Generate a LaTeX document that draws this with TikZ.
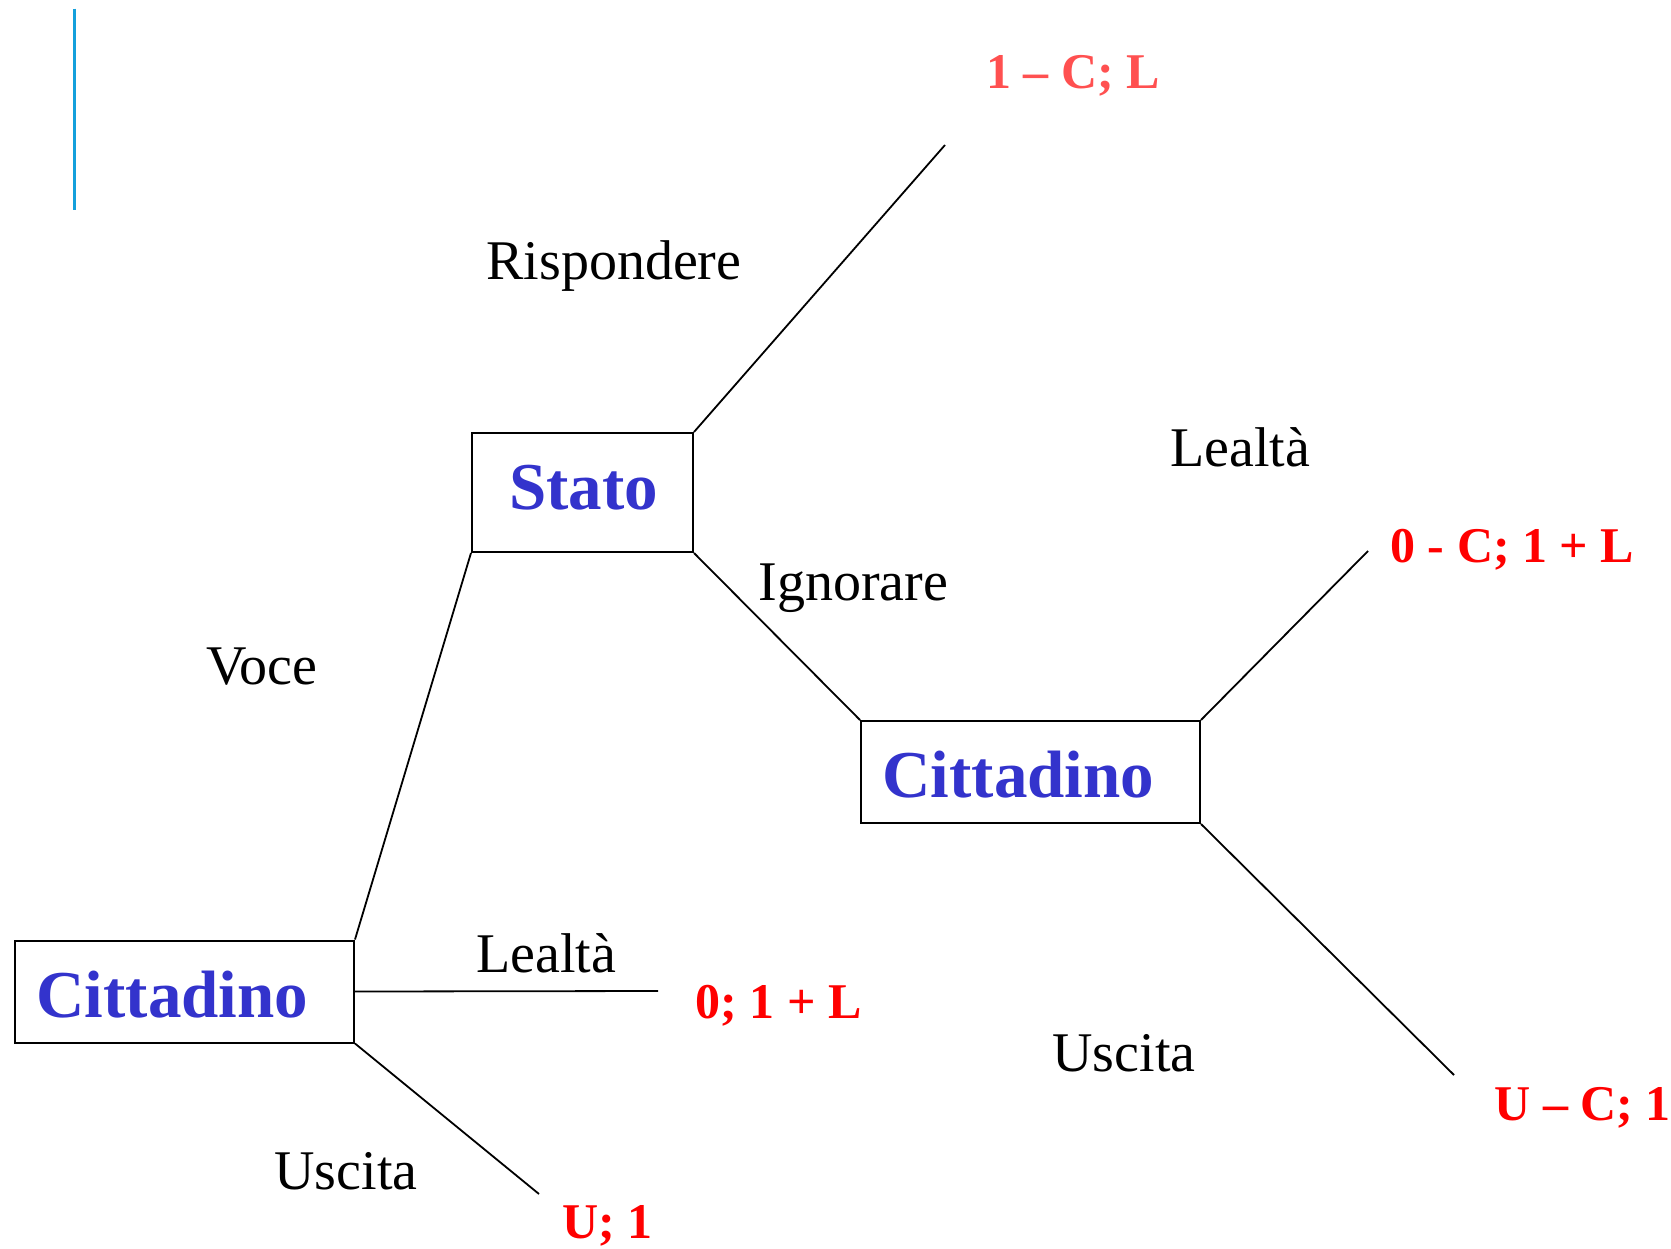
\documentclass[tikz,border=0pt]{standalone}
\usepackage{fontspec}
\setmainfont{Liberation Serif}
\definecolor{playerblue}{RGB}{51,51,204}
\definecolor{payred}{RGB}{255,0,0}
\definecolor{paylight}{RGB}{255,80,80}
\definecolor{barblue}{RGB}{20,160,220}
\begin{document}
\begin{tikzpicture}[x=0.5pt,y=-0.5pt,
  decision/.style={draw,line width=1pt,inner sep=0pt},
  player/.style={font=\fontsize{33.5}{36}\selectfont\bfseries,text=playerblue,anchor=base west,inner sep=0pt},
  move/.style={font=\fontsize{28}{32}\selectfont,anchor=base west,inner sep=0pt},
  payoff/.style={font=\fontsize{25}{28}\selectfont\bfseries,text=payred,anchor=base west,inner sep=0pt},
  branch/.style={line width=0.9pt}]
\useasboundingbox (0,0) rectangle (1671,1248);

% accent bar
\coordinate (bartop) at (74.6,8.5);
\coordinate (barbot) at (74.6,210);
\draw[barblue,line width=1.5pt] (bartop) -- (barbot);

% decision nodes
\node[decision,minimum width=110.5pt,minimum height=59.5pt] (stato) at (582.5,492.5) {};
\node[decision,minimum width=169.5pt,minimum height=51pt] (cr) at (1030.5,772) {};
\node[decision,minimum width=169.5pt,minimum height=51pt] (cl) at (184.5,991.5) {};

\node[player] (tstato) at (509,509) {Stato};
\node[player] (tcr) at (882,797) {Cittadino};
\node[player] (tcl) at (36,1017) {Cittadino};

% branch ends
\coordinate (e1) at (945,145);
\coordinate (e2) at (1368,551);
\coordinate (e3) at (1454,1075);
\coordinate (e4) at (658,991);
\coordinate (e5) at (539,1194);

\draw[branch] (stato.north east) -- (e1);
\draw[branch] (stato.south west) -- (cl.north east);
\draw[branch] (stato.south east) -- (cr.north west);
\draw[branch] (cr.north east) -- (e2);
\draw[branch] (cr.south east) -- (e3);
\draw[branch] (cl.east) -- (e4);
\draw[branch] (cl.south east) -- (e5);

% moves
\node[move] (m1) at (486,279) {Rispondere};
\node[move] (m2) at (758,600) {Ignorare};
\node[move] (m3) at (206,684) {Voce};
\node[move] (m4) at (1170,466) {Lealtà};
\node[move] (m5) at (1052,1071) {Uscita};
\node[move] (m6) at (476,972) {Lealtà};
\node[move] (m7) at (274,1189) {Uscita};

% payoffs
\node[payoff,text=paylight] (p1) at (986,88.5) {1 – C; L};
\node[payoff] (p2) at (1390,562) {0 - C; 1 + L};
\node[payoff] (p3) at (1494,1120) {U – C; 1};
\node[payoff] (p4) at (695,1018) {0; 1 + L};
\node[payoff] (p5) at (562,1238) {U; 1};
\end{tikzpicture}
\end{document}
